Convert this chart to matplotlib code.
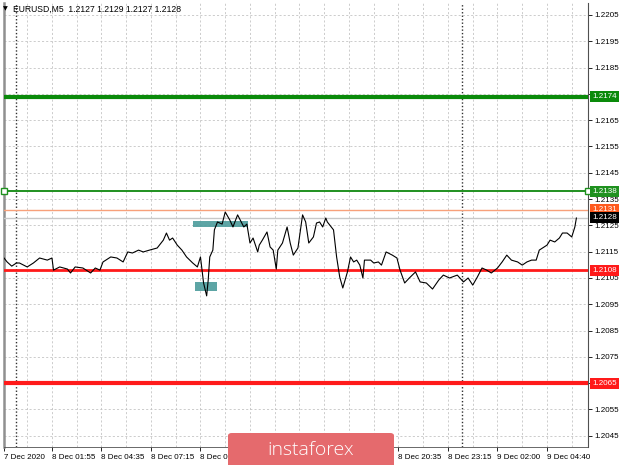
import numpy as np
import matplotlib
matplotlib.use('Agg')
import matplotlib.pyplot as plt
from matplotlib.patches import Rectangle, FancyBboxPatch
import matplotlib.transforms as mtransforms

plt.rcParams['font.family'] = ['Liberation Sans', 'DejaVu Sans']

# --- EURUSD M5 closes (bar number since 7 Dec 23:20, price) ---
bars = [0, 2, 5, 8, 10, 15, 19, 23, 28, 31, 32, 36, 41, 43, 46, 51, 56, 59, 62, 64,
        69, 73, 77, 80, 83, 87, 90, 94, 99, 103, 105, 107, 109, 112, 115, 118, 122, 125,
        127, 128, 129, 131, 132, 133, 135, 136, 138, 141, 143, 146, 148, 151, 155, 157,
        159, 161, 164, 165, 167, 170, 172, 174, 176, 177, 180, 183, 185, 187, 190, 193,
        195, 197, 200, 202, 204, 206, 208, 209, 213, 215, 217, 219, 222, 224, 226, 228,
        230, 232, 233, 237, 239, 242, 244, 247, 251, 254, 256, 259, 262, 266, 269, 273,
        277, 281, 284, 288, 293, 297, 300, 303, 306, 309, 312, 315, 319, 322, 325, 328,
        332, 335, 338, 341, 344, 346, 351, 353, 356, 359, 361, 364, 367, 369, 370]
prices = [1.21126, 1.21111, 1.21095, 1.21107, 1.21107, 1.21092, 1.21107, 1.21126, 1.21118,
          1.21126, 1.21080, 1.21092, 1.21084, 1.21069, 1.21092, 1.21088, 1.21069, 1.21088,
          1.21080, 1.21111, 1.21130, 1.21126, 1.21111, 1.21149, 1.21145, 1.21156, 1.21149,
          1.21156, 1.21164, 1.21194, 1.21221, 1.21194, 1.21202, 1.21175, 1.21156, 1.21130,
          1.21107, 1.21092, 1.21130, 1.21080, 1.21031, 1.20982, 1.21042, 1.21130, 1.21156,
          1.21233, 1.21263, 1.21255, 1.21301, 1.21270, 1.21244, 1.21290, 1.21244, 1.21255,
          1.21183, 1.21202, 1.21149, 1.21175, 1.21194, 1.21225, 1.21168, 1.21156, 1.21084,
          1.21156, 1.21183, 1.21244, 1.21183, 1.21137, 1.21164, 1.21290, 1.21263, 1.21183,
          1.21206, 1.21259, 1.21263, 1.21244, 1.21278, 1.21263, 1.21233, 1.21130, 1.21054,
          1.21012, 1.21073, 1.21130, 1.21111, 1.21118, 1.21099, 1.21050, 1.21118, 1.21118,
          1.21107, 1.21111, 1.21099, 1.21149, 1.21137, 1.21126, 1.21080, 1.21031, 1.21050,
          1.21073, 1.21035, 1.21031, 1.21008, 1.21042, 1.21061, 1.21050, 1.21061, 1.21035,
          1.21050, 1.21023, 1.21054, 1.21088, 1.21080, 1.21069, 1.21088, 1.21111, 1.21137,
          1.21118, 1.21111, 1.21099, 1.21111, 1.21118, 1.21118, 1.21156, 1.21175, 1.21194,
          1.21187, 1.21202, 1.21221, 1.21221, 1.21206, 1.21244, 1.21278]

# x axis labels (the ones under the logo are not visible in the original)
label_bars = [0, 31, 63, 95, 127, 159, 191, 223, 255, 287, 319, 351]
label_text = ['7 Dec 2020', '8 Dec 01:55', '8 Dec 04:35', '8 Dec 07:15', '8 Dec 09:55',
              '', '', '', '8 Dec 20:35', '8 Dec 23:15',
              '9 Dec 02:00', '9 Dec 04:40']
day_breaks = [8, 296]

# horizontal levels: price, colour, width, label box colour
levels = [1.2174, 1.2138, 1.2131, 1.2128, 1.2108, 1.2065]
level_colors = ['#0a8a0a', '#1f911f', '#f7a07a', '#c8c8c8', '#ff1a1a', '#ff1a1a']
level_widths = [3.0, 1.4, 1.0, 1.0, 2.0, 3.0]
box_colors = ['#0a8a0a', '#1f911f', '#ff5a1e', '#000000', '#ff1a1a', '#ff1a1a']

# entry zones: start bar, end bar, low, high
zones = [(122, 158, 1.21244, 1.21267), (123.5, 137.5, 1.21001, 1.21035)]

header = 'EURUSD,M5  1.2127 1.2129 1.2127 1.2128'

fig = plt.figure(figsize=(6.2, 4.65), dpi=100)
W, H = 620, 465
ax = fig.add_axes([4 / W, 1 - 447 / H, 584 / W, 444 / H])
ax.set_facecolor('white')

ax.set_xlim(0, 377.5)
ax.set_ylim(1.204074, 1.220956)

# grid
ax.set_xticks(label_bars)
ax.set_xticklabels(label_text, fontsize=5.8, ha='left')
ax.set_xticks(np.arange(15, 378, 16), minor=True)
yt = np.round(np.arange(1.2045, 1.2206, 0.001), 4)
ax.set_yticks(yt)
ax.set_yticklabels(['' if v in (1.2175, 1.2065) else f'{v:.4f}' for v in yt], fontsize=5.8)
ax.yaxis.tick_right()
ax.tick_params(axis='y', which='major', length=3, width=0.6, pad=1.5, colors='black')
ax.tick_params(axis='x', which='major', length=3, width=0.6, pad=2, colors='black')
ax.tick_params(axis='x', which='minor', length=0)
ax.grid(True, which='both', color='#c4c4c4', linestyle=(0, (2.5, 2.5)), linewidth=0.6)
for b in day_breaks:
    ax.axvline(b, color='#303030', linestyle=(0, (1, 1.5)), linewidth=1.0, zorder=1)

ax.spines['left'].set_color('#909090')
ax.spines['left'].set_linewidth(1.8)
ax.spines['right'].set_color('#505050')
ax.spines['right'].set_linewidth(0.8)
ax.spines['top'].set_visible(False)
ax.spines['bottom'].set_color('#505050')
ax.spines['bottom'].set_linewidth(0.6)

# levels
trans = mtransforms.blended_transform_factory(ax.transAxes, ax.transData)
for p, c, lw, bc in zip(levels, level_colors, level_widths, box_colors):
    ax.axhline(p, color=c, linewidth=lw, zorder=3)
    ax.text(1.007, p, f'{p:.4f}', transform=trans, fontsize=5.8, color='white',
            va='center', ha='left', clip_on=False, zorder=6,
            bbox=dict(boxstyle='square,pad=0.25', fc=bc, ec='none'))
ax.plot([0.0, 1.0], [levels[1], levels[1]], transform=trans, linestyle='none',
        marker='s', markersize=4, mfc='white', mec='#1f911f', mew=1.0,
        clip_on=False, zorder=5)

# zones
for x0, x1, lo, hi in zones:
    ax.add_patch(Rectangle((x0, lo), x1 - x0, hi - lo, facecolor='#4b9b9b',
                           edgecolor='none', alpha=0.9, zorder=4))

# price line
ax.plot(bars, prices, color='black', linewidth=0.8, zorder=5)

# header
fig.text(3 / W, 1 - 9 / H, '\u25bc', fontsize=4.5, va='center', ha='left',
         family='DejaVu Sans')
fig.text(13 / W, 1 - 9 / H, header, fontsize=6.2, va='center', ha='left')

# logo
logo = FancyBboxPatch((228 / W, -0.02), 166 / W, 0.02 + 32 / H,
                      boxstyle='round,pad=0,rounding_size=0.006',
                      transform=fig.transFigure, facecolor='#e56a6d',
                      edgecolor='none', zorder=20)
fig.patches.append(logo)
fig.text(311 / W, 1 - 450 / H, 'instaforex', fontsize=14, color='white',
         family=['Open Sans', 'DejaVu Sans'], fontweight='light',
         ha='center', va='center', zorder=21)

fig.savefig('out.png', dpi=100)
